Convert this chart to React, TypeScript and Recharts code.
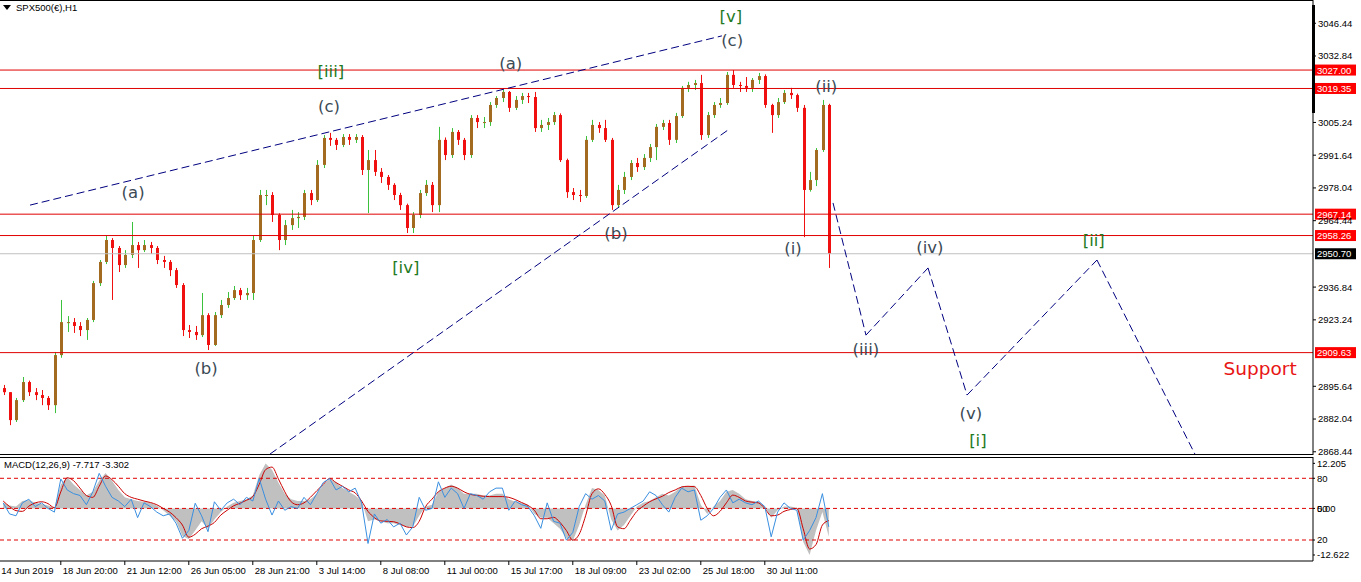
import React from 'react';
import { ComposedChart, Bar, Line, Area, XAxis, YAxis, ReferenceLine, ReferenceDot } from 'recharts';

// ---------------- DATA ----------------
const FIRST_OPEN = 2894.9;

const closes = [
  2893.2, 2881.6, 2889.9, 2897.4, 2893.2, 2892.0, 2890.8, 2887.8, 2908.6, 2922.3,
  2922.3, 2920.7, 2919.0, 2923.2, 2938.5, 2947.3, 2956.4, 2953.1, 2946.0, 2950.2,
  2954.3, 2952.2, 2954.3, 2953.1, 2948.1, 2947.3, 2943.9, 2937.7, 2919.0, 2918.2,
  2916.9, 2925.2, 2912.8, 2925.2, 2929.4, 2932.3, 2935.6, 2933.5, 2934.4, 2956.4,
  2975.1, 2975.1, 2966.8, 2956.4, 2962.6, 2965.5, 2966.0, 2975.9, 2973.0, 2987.6,
  2998.8, 2998.0, 2995.9, 2999.2, 2998.0, 2999.2, 2985.5, 2989.6, 2984.7, 2982.6,
  2979.3, 2975.1, 2970.9, 2961.4, 2966.8, 2975.9, 2979.3, 2970.9, 2998.0, 2991.7,
  3001.3, 2998.0, 2991.7, 3007.1, 3005.4, 3005.4, 3012.5, 3015.4, 3017.9, 3011.3,
  3014.6, 3016.2, 3015.8, 3002.9, 3004.2, 3005.4, 3008.3, 2989.6, 2976.3, 2975.1,
  2974.7, 2998.0, 3004.2, 3002.9, 2998.0, 2970.9, 2977.2, 2982.6, 2988.4, 2986.7,
  2990.5, 2995.0, 3003.4, 3005.0, 2998.0, 3007.9, 3019.6, 3020.8, 3021.6, 3000.0,
  3008.3, 3012.5, 3013.3, 3025.0, 3020.8, 3020.4, 3019.6, 3022.9, 3024.5, 3012.5,
  3008.3, 3013.7, 3017.5, 3016.6, 3011.3, 2977.2, 2981.3, 2993.8, 3012.5, 2950.7,
];

const highs = [
  2896.2, 2893.2, 2890.8, 2899.5, 2898.0, 2894.9, 2894.1, 2891.6, 2909.9, 2931.5,
  2924.8, 2924.0, 2922.3, 2924.0, 2939.4, 2948.1, 2958.1, 2957.2, 2953.9, 2952.2,
  2963.9, 2955.6, 2956.4, 2955.6, 2953.9, 2949.8, 2948.1, 2944.8, 2938.5, 2921.1,
  2920.7, 2934.4, 2926.0, 2926.5, 2931.5, 2934.8, 2937.3, 2936.5, 2936.5, 2958.1,
  2977.2, 2977.2, 2976.3, 2967.5, 2964.7, 2968.9, 2968.0, 2977.2, 2977.2, 2989.6,
  3000.0, 3000.9, 2998.8, 3000.4, 3000.4, 3000.4, 3000.0, 2993.8, 2993.8, 2986.3,
  2983.4, 2980.0, 2976.0, 2971.5, 2968.0, 2977.2, 2981.3, 2980.5, 3003.4, 2999.0,
  3002.9, 3002.1, 2998.8, 3008.3, 3008.3, 3007.5, 3013.7, 3016.2, 3018.7, 3018.3,
  3016.2, 3017.5, 3017.5, 3017.9, 3006.3, 3007.1, 3009.6, 3009.0, 2990.2, 2978.0,
  2977.2, 2999.6, 3006.3, 3005.4, 3006.3, 2998.8, 2979.3, 2984.7, 2989.6, 2990.5,
  2992.1, 2996.3, 3004.6, 3006.3, 3006.3, 3009.2, 3020.4, 3022.1, 3022.9, 3025.0,
  3009.6, 3013.7, 3015.4, 3026.2, 3027.0, 3022.1, 3024.1, 3023.7, 3025.8, 3025.2,
  3013.0, 3015.4, 3018.7, 3019.6, 3017.2, 3012.5, 2984.7, 2994.6, 3014.6, 3013.0,
];

const lows = [
  2892.0, 2879.5, 2880.8, 2889.1, 2891.6, 2889.9, 2887.8, 2885.8, 2884.5, 2907.5,
  2918.2, 2917.8, 2916.5, 2914.9, 2922.3, 2937.3, 2946.4, 2931.5, 2943.1, 2944.8,
  2948.9, 2944.8, 2951.4, 2950.6, 2946.4, 2944.8, 2941.4, 2936.5, 2916.5, 2915.7,
  2914.9, 2916.1, 2910.7, 2912.4, 2924.0, 2928.2, 2931.5, 2931.5, 2931.5, 2931.5,
  2955.6, 2970.9, 2963.9, 2952.2, 2954.3, 2960.6, 2961.4, 2964.7, 2970.9, 2972.2,
  2986.3, 2995.5, 2993.8, 2995.0, 2995.9, 2996.7, 2983.4, 2967.6, 2983.0, 2980.1,
  2977.2, 2973.0, 2968.9, 2959.3, 2959.3, 2965.5, 2974.7, 2968.0, 2968.0, 2989.6,
  2990.5, 2995.9, 2989.6, 2990.5, 3002.9, 3002.9, 3003.8, 3011.3, 3013.7, 3009.6,
  3010.4, 3012.9, 3013.3, 3001.3, 3001.3, 3002.1, 3004.2, 2988.8, 2973.9, 2973.0,
  2972.2, 2973.9, 2997.1, 3000.9, 2997.1, 2968.9, 2969.7, 2975.5, 2981.3, 2984.7,
  2985.5, 2988.8, 2989.6, 3002.1, 2995.9, 2996.7, 3007.1, 3017.9, 3018.7, 2998.0,
  2998.8, 3007.1, 3011.3, 3012.5, 3019.6, 3017.9, 3017.9, 3017.9, 3021.2, 3011.3,
  3000.9, 3007.1, 3012.9, 3015.0, 3009.6, 2957.6, 2976.5, 2978.8, 2993.0, 2944.8,
];

const macdHist = [
  1.5, 0.8, 0.5, 2.0, 2.3, 1.5, 1.2, 0.8, 0.2, 6.5,
  8.5, 6.5, 5.0, 3.5, 4.5, 7.5, 9.6, 7.5, 5.0, 3.0,
  2.5, 2.0, 1.8, 1.5, 0.8, -0.5, -2.0, -3.5, -7.5, -8.3,
  -6.0, -3.5, -5.5, -3.0, -1.0, 0.5, 1.5, 2.0, 2.5, 3.5,
  9.0, 12.2, 10.5, 7.0, 4.0, 2.5, 2.0, 2.0, 2.5, 4.0,
  6.5, 8.0, 7.0, 5.5, 4.5, 3.5, 2.0, -3.5, -3.0, -3.5,
  -4.0, -4.0, -4.5, -5.0, -5.0, -2.0, 0.5, 1.0, 4.5, 5.5,
  6.5, 5.5, 4.0, 4.0, 4.0, 3.5, 3.5, 4.0, 4.0, 2.5,
  1.8, 1.5, 1.0, -1.5, -2.5, -2.5, -4.0, -5.5, -8.0, -8.8,
  -4.5, 1.0, 5.5, 5.0, 3.5, -3.0, -6.0, -4.5, -2.0, 0.5,
  1.5, 2.0, 3.0, 4.0, 3.5, 4.5, 6.0, 6.0, 6.2, 1.0,
  -1.5, 0.5, 2.0, 4.5, 5.0, 4.0, 2.5, 2.0, 1.8, 0.5,
  -2.5, -0.5, 0.5, 0.5, 0.2, -9.0, -12.6, -6.0, -1.0, -7.7,
];

const macdSignal = [
  2.0, 0.5, -0.6, -0.8, 0.6, 1.5, 1.8, 1.3, 0.2, 4.5,
  8.3, 7.5, 5.5, 3.5, 3.0, 6.0, 8.8, 7.8, 6.0, 4.0,
  3.0, 2.5, 2.0, 1.6, 1.0, 0.0, -1.0, -2.5, -4.5, -7.8,
  -7.0, -5.5, -4.8, -3.8, -1.8, -0.5, 0.7, 1.4, 2.2, 3.2,
  6.5, 10.5, 11.2, 8.0, 4.5, 1.8, 1.0, 1.5, 3.0, 4.8,
  6.5, 8.1, 7.0, 6.0, 5.0, 4.2, 2.0, -0.8, -2.5, -3.4,
  -3.5, -3.6, -4.2, -5.0, -5.2, -3.5, 0.5, 2.5, 4.5, 5.5,
  6.0, 5.5, 4.5, 3.8, 3.5, 3.3, 3.2, 3.2, 3.2, 3.0,
  2.4, 1.6, 0.8, -0.5, -2.8, -2.8, -2.4, -3.8, -6.0, -8.6,
  -7.0, -2.0, 4.0, 5.3, 3.8, 0.8, -5.0, -5.5, -3.2, -0.8,
  0.6, 1.8, 2.6, 3.3, 4.3, 5.0, 5.8, 6.0, 5.9, 3.5,
  0.0, -2.0, -0.8, 1.5, 3.6, 3.0, 2.0, 1.7, 1.5, 0.0,
  -2.0, -1.8, -0.8, -0.3, 0.0, -5.5, -11.0, -9.8, -4.5, -3.3,
];

const macdBlue = [
  1.5, -1.5, -2.0, 1.5, 2.5, 0.5, 1.5, 0.0, -1.0, 8.0,
  5.0, 4.0, 3.5, 1.0, 4.5, 9.5, 6.0, 3.0, 2.0, 0.5,
  2.5, -2.5, 1.5, 0.5, -1.0, -2.0, -1.5, -4.0, -8.1, -6.0,
  1.4, -2.0, -6.3, 1.8, -0.5, 1.5, 2.5, 1.0, 3.0, 2.0,
  8.1, 2.5, -1.8, 2.0, -0.5, 0.5, 0.0, 3.0, 1.0, 4.0,
  7.0, 8.1, 5.0, 6.0, 4.5, 5.5, 1.5, -9.5, -1.5, -4.0,
  -3.0, -5.0, -4.0, -7.2, -5.0, 3.0, -0.5, 0.0, 7.2, 3.0,
  5.5, 4.0, 0.0, 4.0, 3.5, 2.5, 4.5, 5.5, 5.5, -0.5,
  2.0, 1.0, 0.5, -2.0, -5.4, 1.5, -3.5, -4.0, -8.6, -6.5,
  0.5, 4.0, 2.5, 3.5, 2.0, -5.9, -1.5, -1.0, 0.0, 1.0,
  2.0, 4.5, 3.5, 1.0, -1.0, 3.0, 5.5, 4.5, 5.0, -3.2,
  -2.0, 0.0, 3.0, 5.0, 1.5, 2.5, 1.5, 1.0, 2.0, 0.5,
  -7.7, -1.0, 1.5, 0.0, -0.5, -8.6, -6.0, -2.5, 4.0, -5.0,
];

const dateTickSlots = [0, 9, 19, 29, 39, 49, 59, 69, 79, 89, 99, 109, 119];
const dateTickLabels = [
  '14 Jun 2019', '18 Jun 20:00', '21 Jun 12:00', '26 Jun 05:00', '28 Jun 21:00', '3 Jul 14:00',
  '8 Jul 08:00', '11 Jul 00:00', '15 Jul 17:00', '18 Jul 09:00', '23 Jul 02:00', '25 Jul 18:00', '30 Jul 11:00',
];

const priceTicks = [3046.44, 3032.84, 3005.24, 2991.64, 2978.04, 2964.44, 2936.84, 2923.24, 2895.64, 2882.04, 2868.44];
const resistanceLevels = [3027.0, 3019.35, 2967.14, 2958.26, 2909.63];
const currentPrice = 2950.7;

const macdTickValues = [12.205, 8.16, 0, -8.56, -12.622];
const macdTickLabels = [['12.205'], ['80'], ['50', '0.00'], ['20'], ['-12.622']];
const macdLevels = [8.16, 0, -8.56];

const waveTexts = ['(a)', '(b)', '(c)', '[iii]', '[iv]', '(a)', '(b)', '[v]', '(c)', '(i)', '(ii)', '(iii)', '(iv)', '(v)', '[i]', '[ii]'];
const waveSlots = [20.3, 31.7, 50.9, 51.2, 62.9, 79.3, 95.75, 113.7, 113.9, 123.4, 128.6, 134.8, 144.8, 151.2, 152.3, 170.4];
const wavePrices = [2976.3, 2903.2, 3011.7, 3026.2, 2944.8, 3029.9, 2959.3, 3049.1, 3039.1, 2952.7, 3020.0, 2911.1, 2953.1, 2884.5, 2873.3, 2956.4];
const waveDegree = ['minuette', 'minuette', 'minuette', 'minute', 'minute', 'minuette', 'minuette', 'minute', 'minuette',
  'minuette', 'minuette', 'minuette', 'minuette', 'minuette', 'minute', 'minute'];

const upperChannelSlots = [4.19, 112.3];
const upperChannelPrices = [2970.9, 3041.2];
const lowerChannelSlots = [41.69, 113.25];
const lowerChannelPrices = [2867.5, 3002.1];
const projectionSlots = [129.66, 134.81, 144.5, 150.6, 170.9, 186.2];
const projectionPrices = [2971.8, 2916.9, 2944.8, 2892.0, 2948.1, 2867.5];

const supportSlot = 196.4;
const supportPrice = 2903.2;

// ---------------- LAYOUT / STYLE ----------------
const FONT = '"Liberation Sans", Arial, sans-serif';
const WAVE_FONT = '"DejaVu Sans", Verdana, sans-serif';
const CHART_W = 1361;
const PLOT_W = 1313;
const SLOT_PX = 6.4;
const X_DOMAIN: [number, number] = [-0.5, -0.5 + PLOT_W / SLOT_PX];
const PRICE_DOMAIN: [number, number] = [2867.1, 3056.1];
const MACD_DOMAIN: [number, number] = [-14.25, 13.93];

const GREEN = '#3cc13c';
const BROWN = '#a36b1f';
const RED = '#f01010';
const LINE_RED = '#e00000';
const NAVY = '#00007f';
const WAVE_GRAY = '#3b4a55';
const WAVE_GREEN = '#1f7a1f';

const candles = closes.map((c, i) => ({
  i,
  o: i === 0 ? FIRST_OPEN : closes[i - 1],
  h: highs[i],
  l: lows[i],
  c,
}));

const macdData = macdHist.map((v, i) => ({ i, hist: v, sig: macdSignal[i], blue: macdBlue[i] }));

// ---------------- SHAPES ----------------
const Candle = (props: any) => {
  const { x, y, width, height, payload } = props;
  if (!payload || x == null || y == null) return null;
  const top = Math.min(y, y + height);
  const h = Math.abs(height);
  const span = payload.h - payload.l;
  const ppu = span > 0 ? h / span : 0;
  const cx = Math.round(x + width / 2) + 0.5;
  const bTop = top + (payload.h - Math.max(payload.o, payload.c)) * ppu;
  const bBot = top + (payload.h - Math.min(payload.o, payload.c)) * ppu;
  const up = payload.c >= payload.o;
  return (
    <g>
      <line x1={cx} x2={cx} y1={top} y2={top + h} stroke={up ? GREEN : RED} strokeWidth={1} />
      <rect x={cx - 1.5} y={bTop} width={3} height={Math.max(1, bBot - bTop)} fill={up ? BROWN : RED} />
    </g>
  );
};

const PriceTick = (props: any) => {
  const { x, y, payload } = props;
  return (
    <text x={x} y={y} dy={3.4} fontSize={9.5} fontFamily={FONT} fill="#000" textAnchor="start">
      {Number(payload.value).toFixed(2)}
    </text>
  );
};

const MacdTick = (props: any) => {
  const { x, y, payload } = props;
  const idx = macdTickValues.indexOf(payload.value);
  const labels = idx >= 0 ? macdTickLabels[idx] : [];
  return (
    <g>
      {labels.map((t, k) => (
        <text key={k} x={x} y={y} dy={3.4} fontSize={9.5} fontFamily={FONT} fill="#000" textAnchor="start">
          {t}
        </text>
      ))}
    </g>
  );
};

const DateTick = (props: any) => {
  const { x, y, payload } = props;
  const idx = dateTickSlots.indexOf(payload.value);
  if (idx < 0) return null;
  const first = idx === 0;
  return (
    <g>
      {!first && <line x1={x} x2={x} y1={y} y2={y + 4} stroke="#000" />}
      <text x={first ? x - 2 : x + 2} y={y + 12.5} fontSize={9.5} fontFamily={FONT} fill="#000" textAnchor="start">
        {dateTickLabels[idx]}
      </text>
    </g>
  );
};

const priceBox = (value: number, bg: string) => (p: any) => {
  const vb = p.viewBox || {};
  const bx = vb.x + vb.width + 2;
  const cy = vb.y;
  return (
    <g>
      <rect x={bx} y={cy - 5.5} width={41} height={11} fill={bg} />
      <text x={bx + 2} y={cy + 3.5} fontSize={9.5} fontFamily={FONT} fill="#fff">
        {value.toFixed(2)}
      </text>
    </g>
  );
};

const waveLabel = (text: string, color: string, size: number) => (p: any) => (
  <text
    x={p.cx}
    y={p.cy}
    textAnchor="middle"
    dominantBaseline="central"
    fontSize={size}
    fontFamily={WAVE_FONT}
    fill={color}
  >
    {text}
  </text>
);

export default function App() {
  const projSegments = projectionSlots.slice(1).map((s, k) => [
    { x: projectionSlots[k], y: projectionPrices[k] },
    { x: s, y: projectionPrices[k + 1] },
  ]);

  return (
    <div style={{ position: 'relative', width: CHART_W, height: 582, background: '#fff', overflow: 'hidden' }}>
      <style>{'body{margin:0;background:#fff;} svg{overflow:visible;}'}</style>

      {/* MACD panel (drawn first so the price panel's bottom label stays visible) */}
      <div style={{ position: 'absolute', left: 0, top: 457 }}>
        <ComposedChart width={CHART_W} height={125} data={macdData} margin={{ top: 0, right: 0, bottom: 0, left: 0 }}>
          <XAxis
            dataKey="i"
            type="number"
            domain={X_DOMAIN}
            allowDataOverflow
            ticks={dateTickSlots}
            interval={0}
            height={21}
            tickSize={0}
            tickMargin={0}
            tickLine={false}
            axisLine={{ stroke: '#000' }}
            tick={<DateTick />}
          />
          <YAxis
            orientation="right"
            width={48}
            type="number"
            domain={MACD_DOMAIN}
            allowDataOverflow
            ticks={macdTickValues}
            interval={0}
            tick={<MacdTick />}
            tickSize={2}
            tickMargin={2}
            axisLine={{ stroke: '#000' }}
            tickLine={{ stroke: '#000' }}
          />
          <Area dataKey="hist" type="linear" baseValue={0} stroke="none" fill="#c0c0c0" fillOpacity={1} isAnimationActive={false} dot={false} activeDot={false} />
          {macdLevels.map((v) => (
            <ReferenceLine key={v} y={v} stroke={LINE_RED} strokeDasharray="4 3" ifOverflow="visible" />
          ))}
          <Line dataKey="sig" type="monotone" stroke="#cc0000" strokeWidth={1} dot={false} activeDot={false} isAnimationActive={false} />
          <Line dataKey="blue" type="linear" stroke="#3a8fe0" strokeWidth={1} dot={false} activeDot={false} isAnimationActive={false} />
        </ComposedChart>
      </div>

      {/* main price panel */}
      <div style={{ position: 'absolute', left: 0, top: 0 }}>
        <ComposedChart width={CHART_W} height={462} data={candles} margin={{ top: 0, right: 0, bottom: 7, left: 0 }}>
          <XAxis dataKey="i" type="number" domain={X_DOMAIN} allowDataOverflow hide />
          <YAxis
            orientation="right"
            width={48}
            type="number"
            domain={PRICE_DOMAIN}
            allowDataOverflow
            ticks={priceTicks}
            interval={0}
            tick={<PriceTick />}
            tickSize={3}
            tickMargin={2}
            axisLine={{ stroke: '#000' }}
            tickLine={{ stroke: '#000' }}
          />
          {resistanceLevels.map((v) => (
            <ReferenceLine key={v} y={v} stroke={LINE_RED} strokeWidth={1} ifOverflow="visible" label={{ content: priceBox(v, '#ff0000') }} />
          ))}
          <ReferenceLine y={currentPrice} stroke="#c0c0c0" strokeWidth={1} ifOverflow="visible" label={{ content: priceBox(currentPrice, '#000') }} />

          <ReferenceLine
            segment={[
              { x: upperChannelSlots[0], y: upperChannelPrices[0] },
              { x: upperChannelSlots[1], y: upperChannelPrices[1] },
            ]}
            stroke={NAVY}
            strokeDasharray="8 4"
            ifOverflow="visible"
          />
          <ReferenceLine
            segment={[
              { x: lowerChannelSlots[0], y: lowerChannelPrices[0] },
              { x: lowerChannelSlots[1], y: lowerChannelPrices[1] },
            ]}
            stroke={NAVY}
            strokeDasharray="8 4"
            ifOverflow="visible"
          />
          {projSegments.map((seg, k) => (
            <ReferenceLine key={'p' + k} segment={seg} stroke={NAVY} strokeDasharray="8 4" ifOverflow="visible" />
          ))}

          <Bar dataKey={(d: any) => [d.l, d.h]} barSize={3} shape={<Candle />} isAnimationActive={false} />

          {waveTexts.map((t, k) => (
            <ReferenceDot
              key={'w' + k}
              x={waveSlots[k]}
              y={wavePrices[k]}
              r={0}
              ifOverflow="visible"
              shape={waveLabel(t, waveDegree[k] === 'minute' ? WAVE_GREEN : WAVE_GRAY, 16.5)}
            />
          ))}
          <ReferenceDot x={supportSlot} y={supportPrice} r={0} ifOverflow="visible" shape={waveLabel('Support', '#e81515', 18.5)} />
        </ComposedChart>
      </div>

      {/* panel borders */}
      <div style={{ position: 'absolute', left: 0, top: 0, width: PLOT_W, height: 0, borderTop: '1px solid #000' }} />
      <div style={{ position: 'absolute', left: 0, top: 454, width: PLOT_W, height: 0, borderTop: '1px solid #000' }} />
      <div style={{ position: 'absolute', left: 0, top: 457, width: PLOT_W, height: 0, borderTop: '1px solid #000' }} />
      <div style={{ position: 'absolute', left: PLOT_W - 1, top: 5, width: 3, height: 108, background: '#000' }} />

      {/* titles */}
      <div style={{ position: 'absolute', left: 3, top: 2, display: 'flex', alignItems: 'center', fontFamily: FONT, fontSize: 9.5, color: '#000' }}>
        <svg width={9} height={6} style={{ marginRight: 4 }}>
          <polygon points="0,0 8,0 4,5" fill="#000" />
        </svg>
        <span>SPX500(€),H1</span>
      </div>
      <div style={{ position: 'absolute', left: 4, top: 459, fontFamily: FONT, fontSize: 9.5, color: '#000' }}>
        MACD(12,26,9) -7.717 -3.302
      </div>
    </div>
  );
}
